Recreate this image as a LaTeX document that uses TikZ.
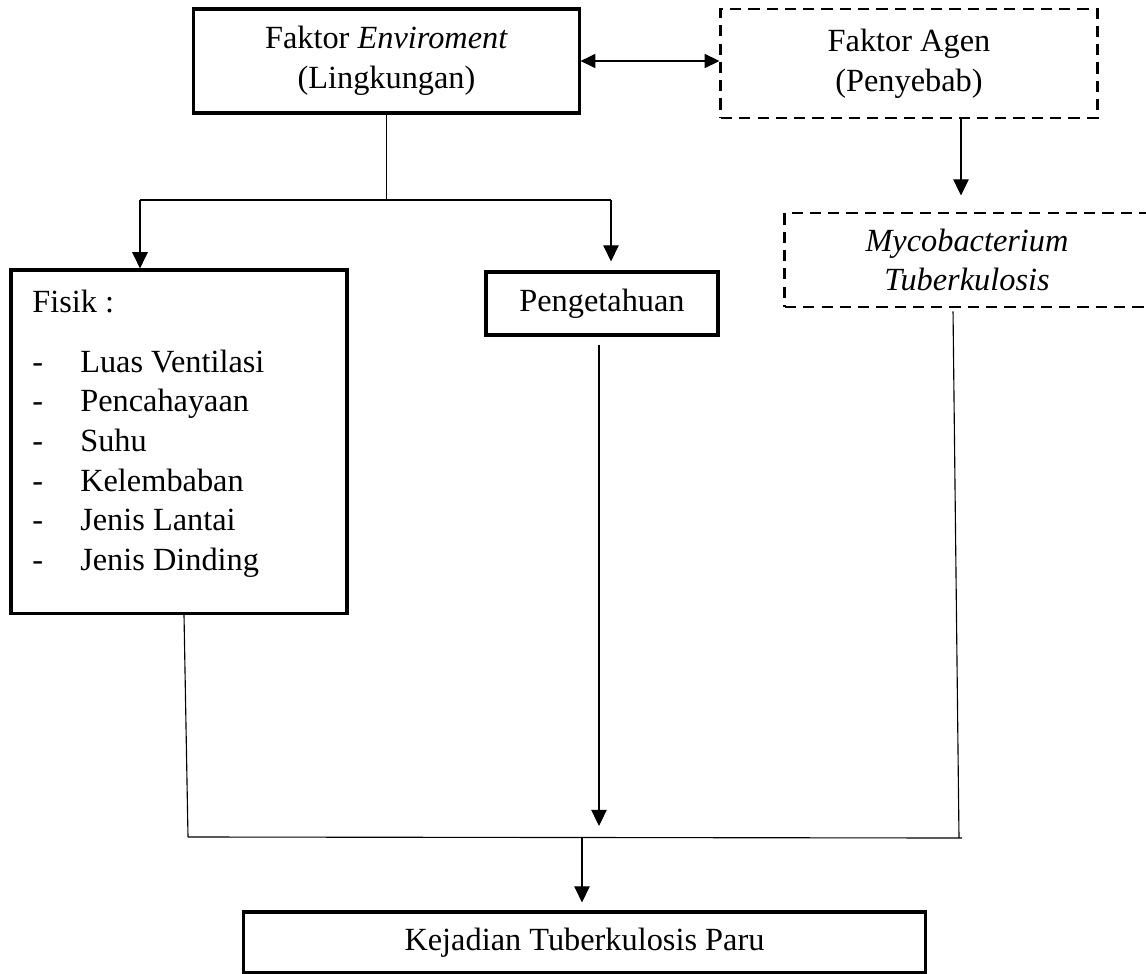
\documentclass[tikz,border=0pt]{standalone}
\usepackage{fontspec}
\setmainfont{Liberation Serif}
\usetikzlibrary{arrows.meta}

\begin{document}
\begin{tikzpicture}[x=0.025cm,y=-0.025cm]
		\tikzstyle{teks}=[font=\fontsize{23}{28.3}\selectfont]
		\tikzstyle{kotak}=[teks, draw, line width=2.2pt, align=center, inner sep=0pt]
		\tikzstyle{kotakputus}=[kotak, line width=2.1pt, dash pattern=on 8pt off 5pt]
		\tikzstyle{garis}=[line width=0.8pt]
		\tikzstyle{panah}=[garis, -{Triangle[length=11.5pt,width=11pt]}]
		\tikzstyle{panahdua}=[garis, {Triangle[length=10.5pt,width=10pt]}-{Triangle[length=10.5pt,width=10pt]}]
		\useasboundingbox (0,0) rectangle (1146,974);
		\node[kotak, minimum width=9.625cm, minimum height=2.6cm] (env) at (386.5,61) {Faktor \textit{Enviroment}\\(Lingkungan)};
		\node[kotakputus, minimum width=9.4cm, minimum height=2.725cm] (agen) at (909,63.5) {Faktor Agen\\(Penyebab)};
		\node[kotakputus, minimum width=9.1cm, minimum height=2.35cm] (myco) at (967,260) {\textit{Mycobacterium}\\\textit{Tuberkulosis}};
		\node[kotak, minimum width=8.4cm, minimum height=8.575cm] (fisik) at (179,441.5) {};
		\node[kotak, minimum width=5.8cm, minimum height=1.575cm] (peng) at (602,303.5) {Pengetahuan};
		\node[kotak, minimum width=17.025cm, minimum height=1.525cm] (hasil) at (584.5,942.5) {Kejadian Tuberkulosis Paru};
		\node[teks, anchor=base west, inner sep=0pt] (judul) at (32,312) {Fisik :};
		\foreach \isi [count=\i] in {Luas Ventilasi, Pencahayaan, Suhu, Kelembaban, Jenis Lantai, Jenis Dinding} {
			\node[teks, anchor=base west, inner sep=0pt] (strip\i) at (32,332.3+39.7*\i) {-};
			\node[teks, anchor=base west, inner sep=0pt] (butir\i) at (80,332.3+39.7*\i) {\isi};
		}
		\coordinate (cabang) at (386.5,200);
		\coordinate (kiri) at (140,200);
		\coordinate (kanan) at (611,200);
		\coordinate (gabkiri) at (188,837);
		\coordinate (gabkanan) at (962,838);
		\coordinate (gabtengah) at (582,838);
		\draw[panahdua] (env.east) -- (env.east -| agen.west);
		\draw[garis] (env.south) -- (cabang);
		\draw[garis] (kiri) -- (kanan);
		\draw[panah] (kiri) -- (kiri |- fisik.north);
		\draw[panah, shorten >=0.225cm] (kanan) -- (kanan |- peng.north);
		\draw[panah, shorten >=0.4cm] ([xshift=-0.15cm]myco.north |- agen.south) -- ([xshift=-0.15cm]myco.north);
		\draw[garis] ([xshift=0.125cm]fisik.south) -- (gabkiri);
		\draw[panah, shorten <=0.2cm, shorten >=0.275cm] ([xshift=-0.075cm]peng.south) -- ([xshift=-0.075cm]peng.south |- gabkiri);
		\draw[garis, shorten <=0.075cm] ([xshift=-0.35cm]myco.south) -- ([xshift=-0.075cm]gabkanan);
		\draw[garis] (gabkiri) -- (gabkanan);
		\draw[panah, shorten >=0.2cm] (gabtengah) -- (gabtengah |- hasil.north);
	\end{tikzpicture}
\end{document}
